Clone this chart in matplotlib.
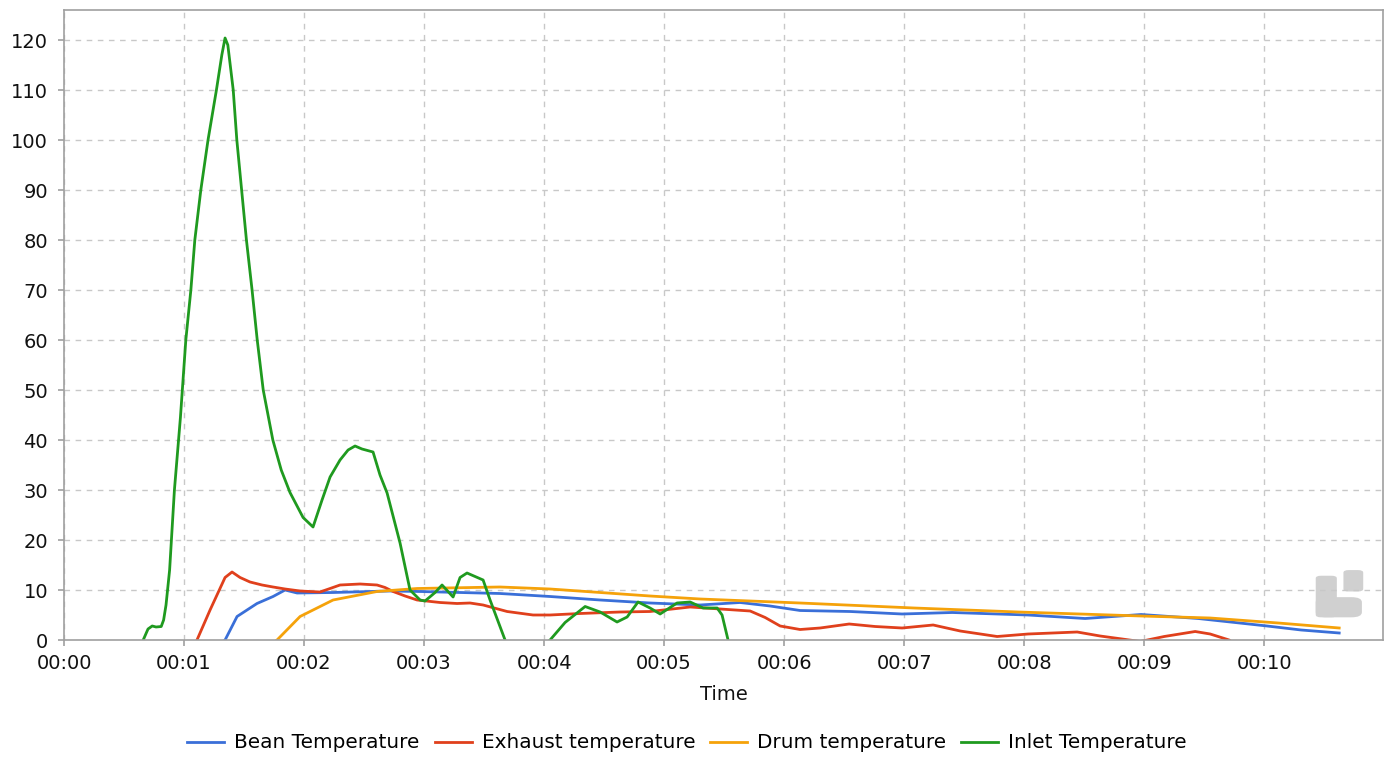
import matplotlib
matplotlib.use("Agg")
import matplotlib.pyplot as plt
from matplotlib.ticker import FuncFormatter
from matplotlib.patches import FancyBboxPatch

# ---- data (time in minutes, temperature) ----
bean_t = [1.283, 1.342, 1.442, 1.608, 1.742, 1.842, 1.942, 2.242, 2.717, 2.967, 3.633, 4.05,
          4.467, 4.883, 5.3, 5.633, 5.883, 6.133, 6.55, 6.983, 7.4, 8.033, 8.508, 8.975,
          9.45, 10.025, 10.308, 10.625]
bean_v = [-1, 0, 4.7, 7.3, 8.7, 10.0, 9.4, 9.5, 9.8, 9.7, 9.3, 8.7,
          8.0, 7.4, 7.0, 7.5, 6.8, 5.9, 5.7, 5.2, 5.5, 5.0, 4.3, 5.1,
          4.3, 2.8, 2.0, 1.4]

exhaust_t = [1.05, 1.108, 1.217, 1.342, 1.4, 1.467, 1.55, 1.65, 1.742, 1.842, 1.967, 2.133,
             2.217, 2.3, 2.467, 2.608, 2.675, 2.742, 2.842, 2.942, 3.133, 3.275, 3.383, 3.492,
             3.692, 3.908, 4.05, 4.3, 4.633, 4.883, 5.217, 5.467, 5.717, 5.842, 5.967, 6.133,
             6.3, 6.542, 6.758, 6.983, 7.242, 7.467, 7.775, 8.033, 8.442, 8.633, 8.817, 8.967,
             9.167, 9.425, 9.55, 9.708, 9.76]
exhaust_v = [-2, 0, 6, 12.5, 13.6, 12.5, 11.6, 11.0, 10.6, 10.2, 9.8, 9.6,
             10.3, 11.0, 11.2, 11.0, 10.5, 9.7, 8.8, 8.0, 7.5, 7.3, 7.4, 7.0,
             5.7, 5.0, 5.0, 5.3, 5.6, 5.7, 6.6, 6.2, 5.8, 4.5, 2.8, 2.1,
             2.4, 3.2, 2.7, 2.4, 3.0, 1.8, 0.7, 1.2, 1.6, 0.8, 0.2, -0.3,
             0.7, 1.7, 1.2, 0.0, -1]

drum_t = [1.717, 1.775, 1.967, 2.242, 2.608, 2.942, 3.633, 4.05, 4.467, 4.883, 5.3, 6.133,
          7.083, 7.95, 8.975, 9.55, 10.117, 10.625]
drum_v = [-1, 0, 4.7, 8.0, 9.7, 10.3, 10.6, 10.2, 9.5, 8.8, 8.2, 7.4,
          6.4, 5.6, 4.8, 4.4, 3.4, 2.4]

inlet_t = [0.62, 0.66, 0.7, 0.735, 0.767, 0.81, 0.83, 0.85, 0.88, 0.92, 0.97, 1.015,
           1.057, 1.09, 1.14, 1.2, 1.27, 1.315, 1.342, 1.365, 1.41, 1.44, 1.48, 1.52,
           1.567, 1.61, 1.66, 1.74, 1.81, 1.883, 1.992,
           2.075, 2.15, 2.217, 2.3, 2.367, 2.425, 2.483, 2.575, 2.633, 2.692, 2.8, 2.883,
           2.967, 3.008, 3.092, 3.15, 3.242, 3.3, 3.358, 3.492, 3.55, 3.675, 3.7, 3.88,
           4.05, 4.175, 4.342, 4.467, 4.608, 4.692, 4.783, 4.883, 4.967, 5.108, 5.217, 5.325,
           5.442, 5.483, 5.533, 5.567]
inlet_v = [-3, 0, 2.2, 2.8, 2.6, 2.7, 4, 7, 14, 30, 44.5, 60,
           70, 80, 90, 100, 110, 117, 120.4, 119, 110, 100, 90, 80,
           70, 60, 50, 40, 34, 29.5, 24.5,
           22.6, 28, 32.6, 36, 38, 38.8, 38.2, 37.6, 33, 29.4, 19.4, 10,
           8, 7.8, 9.5, 11, 8.6, 12.5, 13.4, 12, 8, 0, -2, -3,
           0, 3.5, 6.7, 5.6, 3.6, 4.6, 7.6, 6.4, 5.2, 7.4, 7.6, 6.4,
           6.4, 5, 0, -3]

series = [
    ("Bean Temperature", bean_t, bean_v, "#3a6fd8"),
    ("Exhaust temperature", exhaust_t, exhaust_v, "#e0401c"),
    ("Drum temperature", drum_t, drum_v, "#f5a20a"),
    ("Inlet Temperature", inlet_t, inlet_v, "#1f9a1f"),
]

x_ticks = list(range(0, 11))
y_ticks = list(range(0, 121, 10))

plt.rcParams['font.family'] = ['DejaVu Sans']

fig = plt.figure(figsize=(13.91, 7.58), dpi=100)
ax = fig.add_axes([64 / 1391, 118 / 758, 1319 / 1391, 630 / 758])

for name, t, v, c in series:
    ax.plot(t, v, color=c, lw=2.0, label=name, solid_joinstyle="round")

ax.set_xlim(0, 10.99)
ax.set_ylim(0, 126)
ax.set_xticks(x_ticks)
ax.set_yticks(y_ticks)
ax.xaxis.set_major_formatter(FuncFormatter(lambda x, p: "00:%02d" % int(round(x))))
ax.grid(True, color="#c8c8c8", linestyle=(0, (4, 4)), lw=1)
ax.set_axisbelow(True)
for s in ax.spines.values():
    s.set_color("#a0a0a0")
    s.set_linewidth(1.2)
ax.tick_params(axis="both", colors="#a0a0a0", labelcolor="#111111", labelsize=14,
               length=4.5, width=1.2)
ax.tick_params(axis="y", pad=7)
ax.tick_params(axis="x", pad=5.5)
ax.set_xlabel("Time", fontsize=14, color="#111111", labelpad=9)

# watermark logo
logo_color = "#d0d0d0"
kw = dict(transform=ax.transAxes, fc=logo_color, ec="none", zorder=0)
ax.add_patch(FancyBboxPatch((0.950, 0.037), 0.014, 0.064,
                            boxstyle="round,pad=0.001,rounding_size=0.004", **kw))
ax.add_patch(FancyBboxPatch((0.950, 0.037), 0.033, 0.030,
                            boxstyle="round,pad=0.001,rounding_size=0.008", **kw))
ax.add_patch(FancyBboxPatch((0.971, 0.078), 0.013, 0.032,
                            boxstyle="round,pad=0.001,rounding_size=0.004", **kw))

leg = fig.legend(loc="center", bbox_to_anchor=(0.494, 15 / 758), ncol=4, frameon=False,
                 fontsize=14.4, handlelength=1.85, handletextpad=0.5, columnspacing=0.75)
for line in leg.get_lines():
    line.set_linewidth(2.0)

fig.savefig("out.png", dpi=100)
